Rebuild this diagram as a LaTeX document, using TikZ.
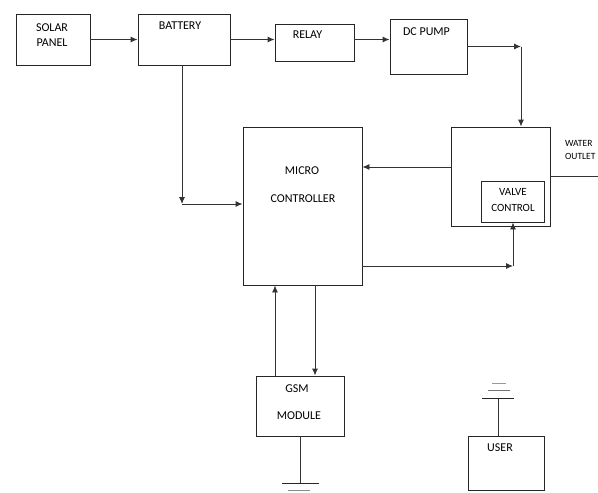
\documentclass[tikz,border=0pt]{standalone}
\usepackage{fontspec}
\setmainfont{Carlito}
\usetikzlibrary{arrows.meta,calc}
\begin{document}
\begin{tikzpicture}[x=1pt,y=-1pt,
  box/.style={draw=black!85,line width=0.9pt,rectangle,inner sep=0pt},
  lbl/.style={inner sep=0pt,font=\fontsize{12}{12}\selectfont,text=black},
  sml/.style={inner sep=0pt,font=\fontsize{11}{11}\selectfont,text=black},
  tiny/.style={inner sep=0pt,font=\fontsize{9.5}{9.5}\selectfont,text=black,anchor=west},
  wire/.style={draw=black!80,line width=0.9pt},
  arr/.style={wire,-{Latex[length=7pt,width=6pt]}},
  gnd/.style={line width=0.9pt}]
\useasboundingbox (0,0) rectangle (598,493);
% boxes
\node[box,minimum width=74pt,minimum height=51pt] (solar) at (53,39.5) {};
\node[box,minimum width=92pt,minimum height=51pt] (battery) at (184,39.5) {};
\node[box,minimum width=79pt,minimum height=37pt] (relay) at (314.5,42.5) {};
\node[box,minimum width=77pt,minimum height=55pt] (pump) at (428.5,46.5) {};
\node[box,minimum width=119pt,minimum height=158pt] (micro) at (302.5,206) {};
\node[box,minimum width=99pt,minimum height=99pt] (water) at (500.5,176.5) {};
\node[box,minimum width=63pt,minimum height=41pt] (valve) at (512.5,201.5) {};
\node[box,minimum width=88pt,minimum height=60pt] (gsm) at (300,406) {};
\node[box,minimum width=76pt,minimum height=54pt] (user) at (506,463) {};
% texts
\node[lbl] (t1) at (52,27.7) {SOLAR};
\node[lbl] (t2) at (52,42.3) {PANEL};
\node[lbl] (t3) at (180,26) {BATTERY};
\node[lbl] (t4) at (307.5,35) {RELAY};
\node[lbl] (t5) at (426.5,31.7) {DC PUMP};
\node[lbl] (t6) at (302,170.7) {MICRO};
\node[lbl] (t7) at (303,199) {CONTROLLER};
\node[sml] (t8) at (513,192) {VALVE};
\node[sml] (t9) at (513,208) {CONTROL};
\node[tiny] (t10) at (565,143.3) {WATER};
\node[tiny] (t11) at (565,156.7) {OUTLET};
\node[lbl] (t12) at (297,389) {GSM};
\node[lbl] (t13) at (299,416) {MODULE};
\node[lbl] (t14) at (500,448) {USER};
% coordinates
\coordinate (c1) at (521,46.5);
\coordinate (c2) at (182,204);
\coordinate (c3) at (513,266);
\coordinate (wout) at (598,176.5);
\coordinate (g1) at (300,483);
\coordinate (u1) at (498,398);
% connectors
\draw[arr] (solar.east) -- (battery.west);
\draw[arr] (battery.east) -- (relay.west |- battery.east);
\draw[arr] ($(relay.east)+(0,-3)$) -- ($(pump.west |- relay.east)+(0,-3)$);
\draw[arr] (pump.east) -- (c1);
\draw[arr] (c1) -- (water.north -| c1);
\draw[arr] ($(water.west)+(0,-9.5)$) -- ($(micro.east |- water.west)+(0,-9.5)$);
\draw[wire] (water.east) -- (wout);
\draw[arr] (battery.south -| c2) -- (c2);
\draw[arr] (c2) -- (micro.west |- c2);
\draw[arr] (micro.east |- c3) -- (c3);
\draw[arr] (c3) -- (valve.south -| c3);
\draw[arr] (gsm.north -| 275,0) -- (micro.south -| 275,0);
\draw[arr] (micro.south -| 315,0) -- (gsm.north -| 315,0);
% grounds
\draw[wire] (gsm.south) -- (g1);
\draw[gnd,black!85] (282,483) -- (319,483);
\draw[gnd,black!45] (288,490) -- (310,490);
\draw[wire] (user.north -| u1) -- (u1);
\draw[gnd,black!85] (482,398) -- (514,398);
\draw[gnd,black!55] (488,390) -- (510,390);
\draw[gnd,black!40] (492,383.5) -- (506,383.5);
\end{tikzpicture}
\end{document}
